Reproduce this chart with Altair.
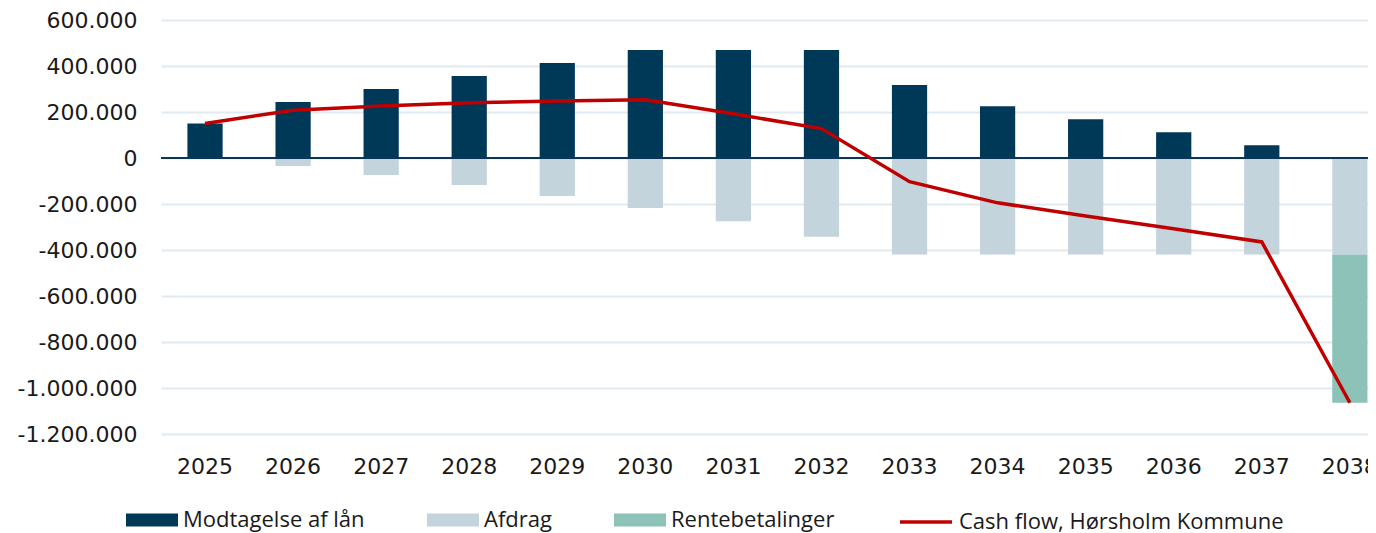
import altair as alt
import pandas as pd

years = ["2025", "2026", "2027", "2028", "2029", "2030", "2031",
         "2032", "2033", "2034", "2035", "2036", "2037", "2038"]
modtagelse = [150000, 243000, 300000, 357000, 413000, 470000, 470000,
              470000, 317000, 225000, 168000, 112000, 55000, 0]
afdrag = [0, -35000, -74000, -117000, -165000, -217000, -275000,
          -342000, -420000, -420000, -420000, -420000, -420000, -420000]
rente = [0, 0, 0, 0, 0, 0, 0, 0, 0, 0, 0, 0, 0, -644000]
cashflow = [150000, 208000, 226000, 240000, 248000, 253000, 192000,
            128000, -103000, -195000, -252000, -308000, -365000, -1064000]

bar_series = ["Modtagelse af lån", "Afdrag", "Rentebetalinger"]
bar_colors = ["#003857", "#C4D4DD", "#8CC2B8"]
line_name = "Cash flow, Hørsholm Kommune"
y_ticks = [-1200000, -1000000, -800000, -600000, -400000, -200000,
           0, 200000, 400000, 600000]

rows = []
for i, y in enumerate(years):
    for k, (name, vals) in enumerate(zip(bar_series, [modtagelse, afdrag, rente])):
        rows.append({"year": y, "series": name, "value": vals[i], "ord": k})
bars_df = pd.DataFrame(rows)
line_df = pd.DataFrame({"year": years, "value": cashflow, "series": [line_name] * len(years)})
zero_df = pd.DataFrame({"z": [0]})

xscale = alt.Scale(paddingInner=0.6, paddingOuter=0.153, align=0.98)
yscale = alt.Scale(domain=[-1200000, 600000], nice=False, zero=False)

bars = alt.Chart(bars_df).mark_bar().encode(
    x=alt.X("year:N", sort=years, scale=xscale, title=None),
    y=alt.Y("value:Q", scale=yscale, title=None, stack="zero"),
    fill=alt.Fill("series:N", scale=alt.Scale(domain=bar_series, range=bar_colors),
                  sort=bar_series,
                  legend=alt.Legend(title=None, orient="none", direction="horizontal",
                                    legendX=-35, legendY=474,
                                    symbolType="M-1,-0.25H1V0.25H-1Z", symbolSize=2704,
                                    symbolStrokeWidth=0, columnPadding=62, labelOffset=5,
                                    labelFont="Open Sans", labelFontSize=22, labelLimit=0,
                                    labelColor="#1a1a1a")),
    order=alt.Order("ord:Q"),
)

zero_rule = alt.Chart(zero_df).mark_rule(color="#0A3556", strokeWidth=2).encode(
    y=alt.Y("z:Q", scale=yscale, title=None)
)

line = alt.Chart(line_df).mark_line(strokeWidth=3.5).encode(
    x=alt.X("year:N", sort=years, scale=xscale, title=None),
    y=alt.Y("value:Q", scale=yscale, title=None),
    stroke=alt.Stroke("series:N", scale=alt.Scale(domain=[line_name], range=["#C00000"]),
                      legend=alt.Legend(title=None, orient="none", direction="horizontal",
                                        legendX=737, legendY=474,
                                        symbolType="stroke", symbolSize=2704,
                                        symbolStrokeWidth=3.5, labelOffset=5,
                                        labelFont="Open Sans", labelFontSize=22, labelLimit=0,
                                        labelColor="#1a1a1a")),
)

chart = alt.layer(bars, zero_rule, line).properties(
    width=1207, height=414,
    padding={"left": 153, "top": 12, "right": 0, "bottom": 99},
    autosize="none",
).configure(
    locale={"number": {"decimal": ",", "thousands": ".", "grouping": [3],
                       "currency": ["", " kr."], "minus": "-"}}
).configure_view(stroke=None).configure_axisX(
    labelAngle=0, ticks=False, domain=False, grid=False,
    labelFont="DejaVu Sans", labelFontSize=22, labelColor="#1a1a1a", labelPadding=22
).configure_axisY(
    values=y_ticks, format=",d", ticks=False, domain=False,
    grid=True, gridColor="#E2EAF1", gridWidth=2,
    labelFont="DejaVu Sans", labelFontSize=22, labelColor="#1a1a1a", labelPadding=24
)

chart.save("out.html", embed_options={"renderer": "svg", "actions": False})
